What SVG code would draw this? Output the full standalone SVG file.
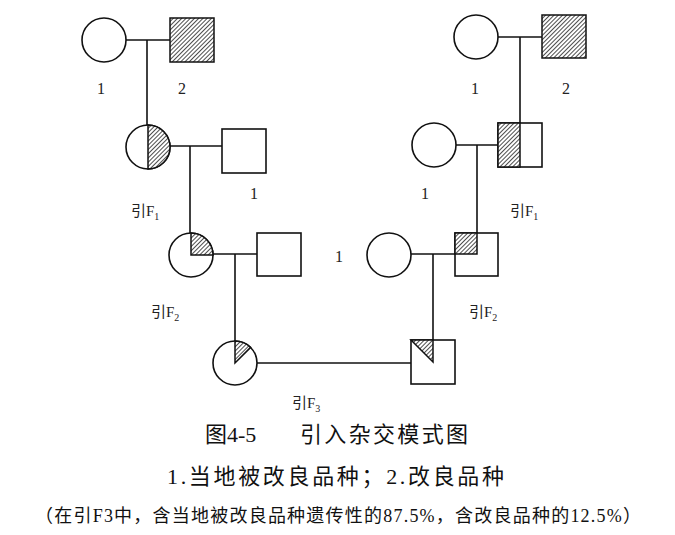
<svg xmlns="http://www.w3.org/2000/svg" width="675" height="535" viewBox="0 0 675 535">
<defs>
<pattern id="hatch" width="3" height="3" patternUnits="userSpaceOnUse" patternTransform="rotate(45)">
<rect width="3" height="3" fill="#fff"/>
<line x1="0" y1="0" x2="0" y2="3" stroke="#111" stroke-width="1.5"/>
</pattern>
</defs>
<style>
.s{fill:#fff;stroke:#111;stroke-width:1.6}
.h{fill:url(#hatch);stroke:#111;stroke-width:1.5}
.l{stroke:#111;stroke-width:1.6;fill:none}
.n{font-family:"Liberation Serif",serif;font-size:16px;fill:#222}
.f{font-family:"Liberation Serif","Noto Sans CJK SC",serif;font-size:15px;fill:#222}
.sub{font-size:10px}
.c{font-family:"Liberation Serif","Noto Sans CJK SC",serif;fill:#111}
</style>
<rect width="675" height="535" fill="#fff"/>
<g id="connectors">
<line class="l" x1="126" y1="40" x2="170" y2="40"/>
<line class="l" x1="147" y1="40" x2="147" y2="125"/>
<line class="l" x1="170" y1="146" x2="222" y2="146"/>
<line class="l" x1="190" y1="146" x2="190" y2="233"/>
<line class="l" x1="213" y1="254" x2="257" y2="254"/>
<line class="l" x1="235" y1="254" x2="235" y2="341"/>
<line class="l" x1="257" y1="363" x2="411" y2="363"/>
<line class="l" x1="498" y1="37" x2="542" y2="37"/>
<line class="l" x1="520" y1="37" x2="520" y2="123"/>
<line class="l" x1="456" y1="145" x2="498" y2="145"/>
<line class="l" x1="477" y1="145" x2="477" y2="233"/>
<line class="l" x1="411" y1="254" x2="455" y2="254"/>
<line class="l" x1="433" y1="254" x2="433" y2="340"/>
</g>
<g id="p1-left">
<circle class="s" cx="104" cy="40" r="22"/>
<text class="n" x="97" y="94">1</text>
</g>
<g id="p2-left">
<rect class="h" x="170" y="18" width="44" height="44"/>
<text class="n" x="178" y="94">2</text>
</g>
<g id="f1-left">
<circle class="s" cx="148" cy="147" r="22"/>
<path class="h" d="M148,125 A22,22 0 0,1 148,169 Z"/>
<text class="f" x="131" y="216">引F<tspan class="sub" dy="4">1</tspan></text>
</g>
<g id="m1-left">
<rect class="s" x="222" y="129" width="44" height="44"/>
<text class="n" x="250" y="199">1</text>
</g>
<g id="f2-left">
<circle class="s" cx="191" cy="255" r="22"/>
<path class="h" d="M191,255 L191,233 A22,22 0 0,1 213,255 Z"/>
<text class="f" x="151" y="317">引F<tspan class="sub" dy="4">2</tspan></text>
</g>
<g id="m2-left">
<rect class="s" x="257" y="233" width="44" height="43"/>
</g>
<g id="f3-female">
<circle class="s" cx="235" cy="363" r="22"/>
<path class="h" d="M235,363 L235,341 A22,22 0 0,1 250.6,347.4 Z"/>
<text class="f" x="292" y="408">引F<tspan class="sub" dy="4">3</tspan></text>
</g>
<g id="p1-right">
<circle class="s" cx="476" cy="37" r="22"/>
<text class="n" x="471" y="94">1</text>
</g>
<g id="p2-right">
<rect class="h" x="542" y="15" width="44" height="43"/>
<text class="n" x="562" y="94">2</text>
</g>
<g id="f1-right">
<rect class="s" x="498" y="123" width="44" height="44"/>
<rect class="h" x="498" y="123" width="22" height="44"/>
<text class="f" x="510" y="216">引F<tspan class="sub" dy="4">1</tspan></text>
</g>
<g id="m1-right">
<circle class="s" cx="434" cy="145" r="22"/>
<text class="n" x="421" y="199">1</text>
</g>
<g id="f2-right">
<rect class="s" x="455" y="233" width="43" height="43"/>
<rect class="h" x="455" y="233" width="22" height="21"/>
<text class="f" x="469" y="317">引F<tspan class="sub" dy="4">2</tspan></text>
</g>
<g id="m2-right">
<circle class="s" cx="389" cy="255" r="22"/>
<text class="n" x="335" y="262">1</text>
</g>
<g id="f3-male">
<rect class="s" x="411" y="340" width="44" height="44"/>
<path class="h" d="M411,340 L433,340 L433,362 Z"/>
</g>
<g id="caption">
<text class="c" x="205" y="442" font-size="22">图4-5</text>
<text class="c" x="300" y="442" font-size="22" textLength="168" lengthAdjust="spacing">引入杂交模式图</text>
<text class="c" x="167" y="484" font-size="22" textLength="337" lengthAdjust="spacing">1.当地被改良品种；2.改良品种</text>
<text class="c" x="35" y="522" font-size="18" textLength="606" lengthAdjust="spacing">（在引F3中，含当地被改良品种遗传性的87.5%，含改良品种的12.5%）</text>
</g>
</svg>
